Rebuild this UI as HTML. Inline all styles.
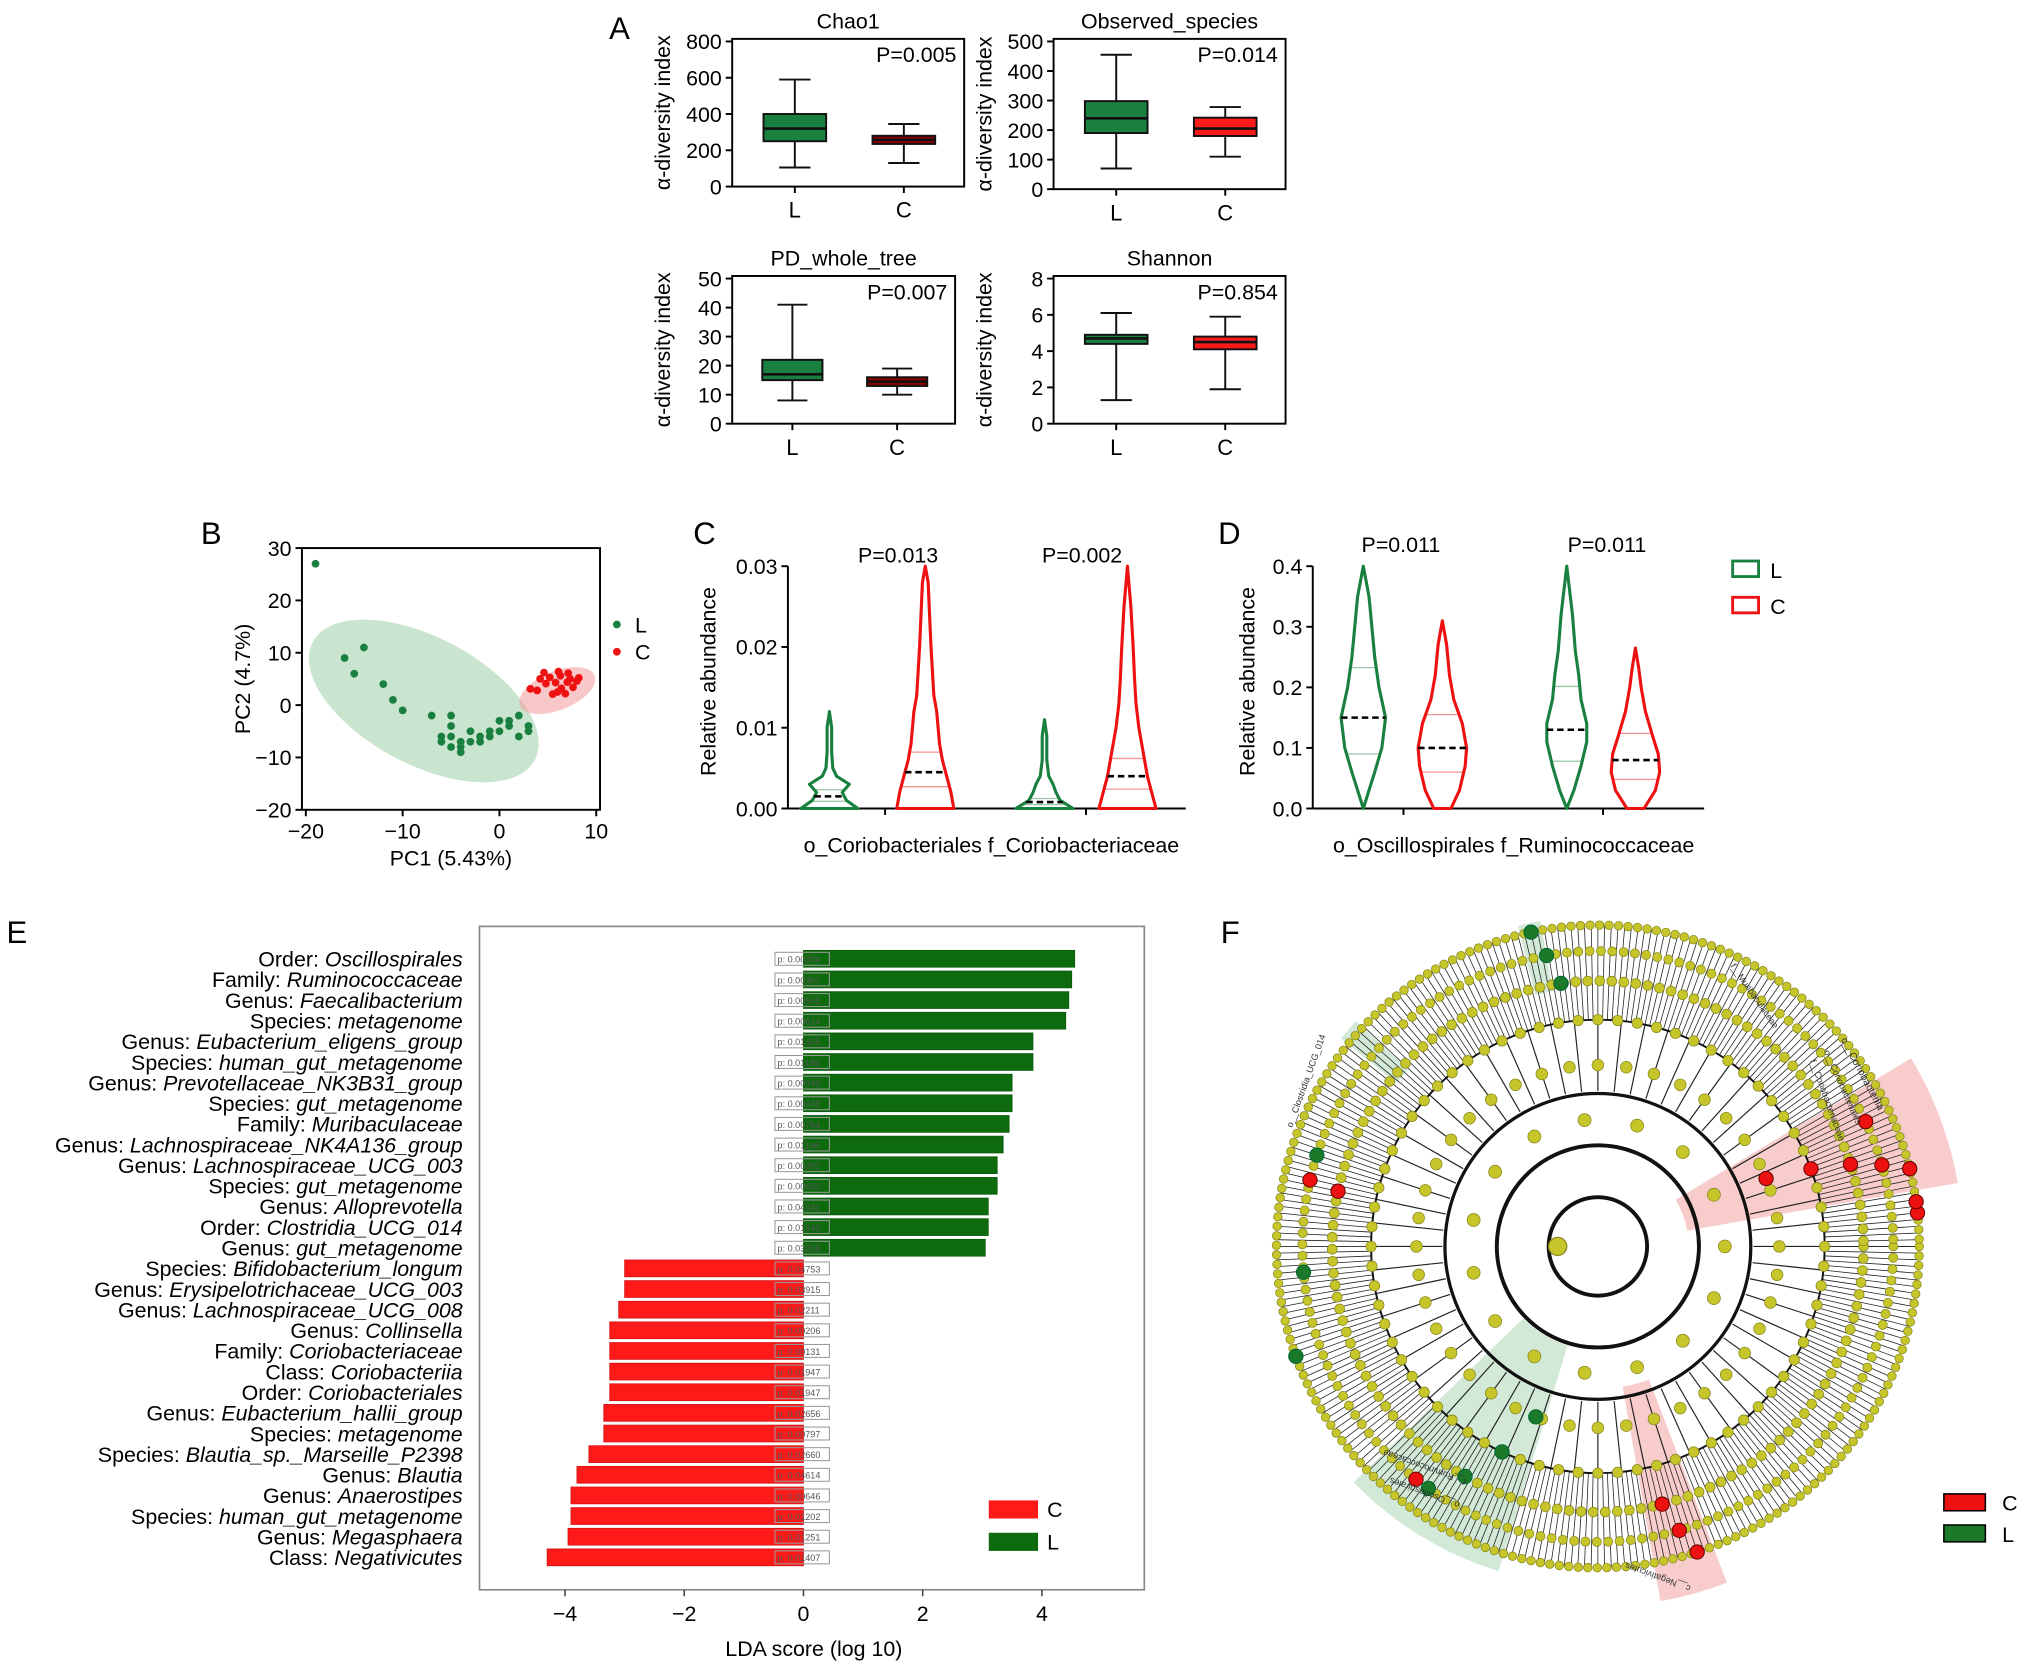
<!DOCTYPE html>
<html><head><meta charset="utf-8"><title>Microbiome figure</title>
<style>
html,body{margin:0;padding:0;background:#fff;}
svg{display:block;font-family:"Liberation Sans",Arial,sans-serif;}
</style></head>
<body>
<svg id="fig" xmlns="http://www.w3.org/2000/svg" width="2032" height="1674" viewBox="0 0 1568 1292" preserveAspectRatio="none">
<text x="470" y="30" font-size="24">A</text>
<text x="155" y="420" font-size="24">B</text>
<text x="535" y="420" font-size="24">C</text>
<text x="940" y="420" font-size="24">D</text>
<text x="5" y="728" font-size="24">E</text>
<text x="942" y="728" font-size="24">F</text>
</svg>
<script>
// ---------- data ----------
const boxTitles = ["Chao1","Observed_species","PD_whole_tree","Shannon"];
const boxPvals = ["P=0.005","P=0.014","P=0.007","P=0.854"];
const boxMax = [800,500,50,8];
const boxTicks = [[0,200,400,600,800],[0,100,200,300,400,500],[0,10,20,30,40,50],[0,2,4,6,8]];
// [whiskerLow, q1, median, q3, whiskerHigh]
const boxL = [[105,250,320,400,590],[70,190,240,298,455],[8,15,17,22,41],[1.3,4.4,4.7,4.9,6.1]];
const boxC = [[130,235,258,280,345],[110,180,205,242,278],[10,13,14.5,16,19],[1.9,4.1,4.5,4.8,5.9]];
const boxCColor = ["#8b0000","#ff1a1a","#8b0000","#ff1a1a"];

const pcaLx = [-19,-16,-14,-15,-12,-11,-10,-7,-5,-5,-6,-5,-4,-3,-2,-1,0,-4,-5,1,1,2,3,3,2,-3,-2,0,-6,-4,-1];
const pcaLy = [27,9,11,6,4,1,-1,-2,-2,-4,-6,-6,-7,-7,-6,-5,-5,-8,-8,-4,-3,-2,-4,-5,-6,-5,-7,-3,-7,-9,-6];
const pcaCx = [5.2,6.1,7.3,8.2,4.8,6.4,7.0,3.9,5.5,6.0,7.6,8.0,6.3,4.6,7.1,3.2,4.2,5.8,6.8];
const pcaCy = [5.3,6.4,5.0,5.2,4.1,3.2,4.4,2.8,2.1,2.5,3.4,4.6,5.6,6.2,6.1,3.1,5.0,4.3,2.2];
const pcaTicksX = [-20,-10,0,10];
const pcaTicksY = [-20,-10,0,10,20,30];

const violinCTicks = [0,0.01,0.02,0.03];
const violinDTicks = [0,0.1,0.2,0.3,0.4];
// density profiles: [value, relative density]
const vC1L = [[0,1],[0.001,0.6],[0.002,0.45],[0.003,0.7],[0.004,0.25],[0.005,0.12],[0.007,0.08],[0.01,0.08],[0.012,0]];
const vC1C = [[0,1],[0.002,0.9],[0.004,0.75],[0.006,0.6],[0.008,0.5],[0.01,0.45],[0.012,0.4],[0.014,0.3],[0.017,0.25],[0.02,0.2],[0.024,0.15],[0.028,0.1],[0.03,0]];
const vC2L = [[0,1],[0.001,0.55],[0.002,0.4],[0.003,0.3],[0.004,0.15],[0.006,0.08],[0.009,0.08],[0.011,0]];
const vC2C = [[0,1],[0.002,0.85],[0.004,0.7],[0.006,0.6],[0.008,0.5],[0.01,0.4],[0.013,0.3],[0.016,0.25],[0.02,0.2],[0.025,0.12],[0.03,0]];
const vCmed = [0.0015,0.0045,0.0008,0.004];
const vD1L = [[0,0],[0.03,0.2],[0.06,0.4],[0.1,0.65],[0.15,0.78],[0.2,0.55],[0.25,0.4],[0.3,0.3],[0.35,0.2],[0.4,0]];
const vD1C = [[0,0.3],[0.03,0.6],[0.07,0.8],[0.1,0.85],[0.14,0.7],[0.18,0.4],[0.22,0.25],[0.27,0.15],[0.31,0]];
const vD2L = [[0,0],[0.03,0.25],[0.07,0.5],[0.11,0.7],[0.14,0.7],[0.18,0.5],[0.22,0.42],[0.26,0.3],[0.32,0.2],[0.4,0]];
const vD2C = [[0,0.3],[0.03,0.7],[0.06,0.85],[0.09,0.8],[0.12,0.6],[0.16,0.35],[0.2,0.2],[0.23,0.12],[0.265,0]];
const vDmed = [0.15,0.1,0.13,0.08];

const ldaLabels = [
 ["Order: ","Oscillospirales"],["Family: ","Ruminococcaceae"],["Genus: ","Faecalibacterium"],["Species: ","metagenome"],
 ["Genus: ","Eubacterium_eligens_group"],["Species: ","human_gut_metagenome"],["Genus: ","Prevotellaceae_NK3B31_group"],
 ["Species: ","gut_metagenome"],["Family: ","Muribaculaceae"],["Genus: ","Lachnospiraceae_NK4A136_group"],
 ["Genus: ","Lachnospiraceae_UCG_003"],["Species: ","gut_metagenome"],["Genus: ","Alloprevotella"],["Order: ","Clostridia_UCG_014"],
 ["Genus: ","gut_metagenome"],["Species: ","Bifidobacterium_longum"],["Genus: ","Erysipelotrichaceae_UCG_003"],
 ["Genus: ","Lachnospiraceae_UCG_008"],["Genus: ","Collinsella"],["Family: ","Coriobacteriaceae"],["Class: ","Coriobacteriia"],
 ["Order: ","Coriobacteriales"],["Genus: ","Eubacterium_hallii_group"],["Species: ","metagenome"],
 ["Species: ","Blautia_sp._Marseille_P2398"],["Genus: ","Blautia"],["Genus: ","Anaerostipes"],["Species: ","human_gut_metagenome"],
 ["Genus: ","Megasphaera"],["Class: ","Negativicutes"]];
const ldaScores = [4.55,4.5,4.45,4.4,3.85,3.85,3.5,3.5,3.45,3.35,3.25,3.25,3.1,3.1,3.05,
 -3.0,-3.0,-3.1,-3.25,-3.25,-3.25,-3.25,-3.35,-3.35,-3.6,-3.8,-3.9,-3.9,-3.95,-4.3];
const ldaP = ["0.00304","0.00367","0.00502","0.00614","0.01405","0.01189","0.00043","0.00043","0.00764","0.01166","0.00382","0.00663","0.04041","0.01642","0.03256",
 "0.04753","0.03915","0.02211","0.00206","0.00131","0.01947","0.01947","0.02656","0.00797","0.02660","0.04614","0.00646","0.01202","0.01251","0.01407"];
const ldaTicks = [-4,-2,0,2,4];

// ---------- helpers ----------
const svg = document.getElementById('fig');
const NS = 'http://www.w3.org/2000/svg';
function mk(tag, attrs, parent){
  const e = document.createElementNS(NS, tag);
  for (const k in attrs) e.setAttribute(k, attrs[k]);
  (parent||svg).appendChild(e);
  return e;
}
function txt(x,y,s,size,anchor,parent,extra){
  const t = mk('text', Object.assign({x:x,y:y,'font-size':size,'text-anchor':anchor||'start'}, extra||{}), parent);
  t.textContent = s;
  return t;
}

// ---------- Panel A ----------
const boxFrames = [[565,30,744,144],[813,30,992,146],[565,213,737,327],[813,213,992,327]];
for (let i=0;i<4;i++){
  const [x0,y0,x1,y1] = boxFrames[i];
  const g = mk('g',{});
  
  
  const ys = v => y1 - v/boxMax[i]*(y1-y0-2);
  const fr = mk('rect',{x:x0,y:y0,width:x1-x0,height:y1-y0,fill:'none',stroke:'#000','stroke-width':1.5},g);
  
  
  const tt = txt((x0+x1)/2,y0-8,boxTitles[i],16.5,'middle',g);
  
  
  const pv = txt(x1-6,y0+18,boxPvals[i],16.5,'end',g);
  
  
  boxTicks[i].forEach(v=>{
    const y = ys(v);
    mk('line',{x1:x0-5,y1:y,x2:x0,y2:y,stroke:'#000','stroke-width':1.5},g);
    const tl = txt(x0-8,y+6,String(v),16.5,'end',g);
    
    
  });
  const yt = txt(0,0,'α-diversity index',16.5,'middle',g,{transform:`translate(${x0-48},${(y0+y1)/2}) rotate(-90)`});
  
  
  const w = x1-x0;
  const cxs = [x0+w*0.27, x0+w*0.74];
  const datas = [boxL[i], boxC[i]];
  const fills = ['#1a8040', boxCColor[i]];
  const names = ['L','C'];
  for (let k=0;k<2;k++){
    const cx = cxs[k], d = datas[k], hw = w*0.135;
    mk('line',{x1:cx,y1:y1,x2:cx,y2:y1+5,stroke:'#000','stroke-width':1.5},g);
    const xl = txt(cx,y1+24,names[k],17,'middle',g);
    
    
    mk('line',{x1:cx,y1:ys(d[0]),x2:cx,y2:ys(d[4]),stroke:'#111','stroke-width':1.5},g);
    mk('line',{x1:cx-hw*0.5,y1:ys(d[0]),x2:cx+hw*0.5,y2:ys(d[0]),stroke:'#111','stroke-width':1.5},g);
    mk('line',{x1:cx-hw*0.5,y1:ys(d[4]),x2:cx+hw*0.5,y2:ys(d[4]),stroke:'#111','stroke-width':1.5},g);
    const b = mk('rect',{x:cx-hw,y:ys(d[3]),width:2*hw,height:ys(d[1])-ys(d[3]),fill:fills[k],stroke:'#111','stroke-width':1.5},g);
    
    
    mk('line',{x1:cx-hw,y1:ys(d[2]),x2:cx+hw,y2:ys(d[2]),stroke:'#111','stroke-width':2},g);
  }
}

// ---------- Panel B ----------
(function(){
  const x0=233,y0=423,x1=463,y1=625;
  const xs = v => 236 + (v+20)*7.47;
  const ys = v => 423 + (30-v)*4.04;
  const g = mk('g',{});
  
  
  const e1 = mk('ellipse',{cx:327,cy:541,rx:97,ry:49,transform:'rotate(28 327 541)',fill:'#9fd0a8','fill-opacity':0.55},g);
  
  
  const e2 = mk('ellipse',{cx:430,cy:533,rx:31,ry:15,transform:'rotate(-22 430 533)',fill:'#f3a3a3','fill-opacity':0.6},g);
  
  
  const fr = mk('rect',{x:x0,y:y0,width:x1-x0,height:y1-y0,fill:'none',stroke:'#000','stroke-width':1.5},g);
  
  
  pcaTicksX.forEach(v=>{
    mk('line',{x1:xs(v),y1:y1,x2:xs(v),y2:y1+5,stroke:'#000','stroke-width':1.5},g);
    const t = txt(xs(v),y1+22,(v<0?'−':'')+Math.abs(v),16.5,'middle',g);
    
    
  });
  pcaTicksY.forEach(v=>{
    mk('line',{x1:x0-5,y1:ys(v),x2:x0,y2:ys(v),stroke:'#000','stroke-width':1.5},g);
    const t = txt(x0-8,ys(v)+6,(v<0?'−':'')+Math.abs(v),16.5,'end',g);
    
    
  });
  for (let i=0;i<pcaLx.length;i++){
    const c = mk('circle',{cx:xs(pcaLx[i]),cy:ys(pcaLy[i]),r:3,fill:'#1a8040'},g);
    
    
  }
  for (let i=0;i<pcaCx.length;i++){
    const c = mk('circle',{cx:xs(pcaCx[i]),cy:ys(pcaCy[i]),r:3,fill:'#ee1111'},g);
    
    
  }
  const xt = txt(348,668,'PC1 (5.43%)',16.5,'middle',g);
  
  
  const yt = txt(0,0,'PC2 (4.7%)',16.5,'middle',g,{transform:'translate(193,524) rotate(-90)'});
  
  
  const l1 = mk('circle',{cx:476,cy:482,r:3,fill:'#1a8040'},g);
  
  
  const lt1 = txt(490,488,'L',16.5,'start',g);
  
  
  const l2 = mk('circle',{cx:476,cy:503,r:3,fill:'#ee1111'},g);
  
  
  const lt2 = txt(490,509,'C',16.5,'start',g);
  
  
})();

// ---------- violins ----------
function violinPanel(cfg){
  const g = mk('g',{});
  
  
  const {x0,x1,y0,y1,max} = cfg;
  const ys = v => y1 - v/max*(y1-y0);
  mk('line',{x1:x0,y1:y0,x2:x0,y2:y1,stroke:'#000','stroke-width':1.5},g);
  mk('line',{x1:x0,y1:y1,x2:x1,y2:y1,stroke:'#000','stroke-width':1.5},g);
  cfg.ticks.forEach(v=>{
    mk('line',{x1:x0-5,y1:ys(v),x2:x0,y2:ys(v),stroke:'#000','stroke-width':1.5},g);
    const t = txt(x0-8,ys(v)+6,v.toFixed(cfg.dec),16.5,'end',g);
    
    
  });
  cfg.xticks.forEach(x=>mk('line',{x1:x,y1:y1,x2:x,y2:y1+5,stroke:'#000','stroke-width':1.5},g));
  cfg.violins.forEach((vv,idx)=>{
    const [cx,prof,col,med] = vv;
    const hw = 22;
    let right = prof.map(p=>`${cx+p[1]*hw},${ys(p[0])}`);
    let left = prof.slice().reverse().map(p=>`${cx-p[1]*hw},${ys(p[0])}`);
    const p = mk('polygon',{points:right.concat(left).join(' '),fill:'none',stroke:col,'stroke-width':2.4,'stroke-linejoin':'round'},g);
    
    
    const widthAt = v=>{ for(let i=1;i<prof.length;i++){ if(v<=prof[i][0]){const a=prof[i-1],b=prof[i];return (a[1]+(b[1]-a[1])*(v-a[0])/(b[0]-a[0]))*hw;} } return 0; };
    const top = prof[prof.length-1][0];
    [med*0.6, med*1.55].forEach(q=>{
      if (q<top){ const w=widthAt(q); mk('line',{x1:cx-w,y1:ys(q),x2:cx+w,y2:ys(q),stroke:col,'stroke-opacity':0.45,'stroke-width':1},g);}
    });
    const w = widthAt(med);
    const m = mk('line',{x1:cx-w,y1:ys(med),x2:cx+w,y2:ys(med),stroke:'#000','stroke-width':2,'stroke-dasharray':'5,3'},g);
    
    
  });
  cfg.pvals.forEach(pp=>{
    const t = txt(pp[0],pp[1],pp[2],16.5,'middle',g);
    
    
  });
  const xt = txt(cfg.xlab[0],cfg.xlab[1],cfg.xlab[2],16.5,'middle',g);
  
  
  const yt = txt(0,0,'Relative abundance',16.5,'middle',g,{transform:`translate(${cfg.ytx},526) rotate(-90)`});
  
  
  return g;
}
violinPanel({name:'violin-panel-c',x0:608,x1:915,y0:437,y1:624,max:0.03,dec:2,ticks:violinCTicks,xticks:[683,838],
  violins:[[640,vC1L,'#1a8040',vCmed[0]],[714,vC1C,'#ee1111',vCmed[1]],[806,vC2L,'#1a8040',vCmed[2]],[870,vC2C,'#ee1111',vCmed[3]]],
  pvals:[[693,434,'P=0.013'],[835,434,'P=0.002']],xlab:[765,658,'o_Coriobacteriales f_Coriobacteriaceae'],ytx:552});
const gD = violinPanel({name:'violin-panel-d',x0:1013,x1:1315,y0:437,y1:624,max:0.4,dec:1,ticks:violinDTicks,xticks:[1083,1237],
  violins:[[1052,vD1L,'#1a8040',vDmed[0]],[1113,vD1C,'#ee1111',vDmed[1]],[1209,vD2L,'#1a8040',vDmed[2]],[1262,vD2C,'#ee1111',vDmed[3]]],
  pvals:[[1081,426,'P=0.011'],[1240,426,'P=0.011']],xlab:[1168,658,'o_Oscillospirales f_Ruminococcaceae'],ytx:968});
const dl1 = mk('rect',{x:1337,y:433,width:20,height:12,fill:'none',stroke:'#1a8040','stroke-width':2.2},gD);


const dlt1 = txt(1366,446,'L',16.5,'start',gD);


const dl2 = mk('rect',{x:1337,y:461,width:20,height:12,fill:'none',stroke:'#ee1111','stroke-width':2.2},gD);


const dlt2 = txt(1366,474,'C',16.5,'start',gD);



// ---------- Panel E ----------
(function(){
  const g = mk('g',{});
  
  
  const x0=370,x1=883,y0=715,y1=1227;
  const xs = v => 620 + v*46;
  const fr = mk('rect',{x:x0,y:y0,width:x1-x0,height:y1-y0,fill:'none',stroke:'#888','stroke-width':1.3},g);
  
  
  const rowY = i => 740 + i*15.93;
  ldaScores.forEach((v,i)=>{
    const y = rowY(i);
    const pos = v>0;
    const b = mk('rect',{x:Math.min(xs(0),xs(v)),y:y-6.5,width:Math.abs(xs(v)-xs(0)),height:13,fill:pos?'#0d6b0d':'#ff1a1a',stroke:pos?'#0a5a0a':'#d01010','stroke-width':0.6},g);
    
    
    if (ldaLabels[i]){
      const t = txt(357,y+6,'',16.5,'end',g);
      
      
      const a = document.createElementNS(NS,'tspan'); a.textContent = ldaLabels[i][0]; t.appendChild(a);
      const c = document.createElementNS(NS,'tspan'); c.setAttribute('font-style','italic'); c.textContent = ldaLabels[i][1]; t.appendChild(c);
    }
    if (ldaP[i]){
      const pb = mk('rect',{x:598,y:y-5,width:42,height:10,fill:'none',stroke:'#999','stroke-width':0.8},g);
      
      
      const pt = txt(600,y+3,'p: '+ldaP[i],7,'start',g,{fill:'#555'});
      
      
    }
  });
  ldaTicks.forEach(v=>{
    mk('line',{x1:xs(v),y1:y1,x2:xs(v),y2:y1+5,stroke:'#444','stroke-width':1.2},g);
    const t = txt(xs(v),y1+24,(v<0?'−':'')+Math.abs(v),16.5,'middle',g);
    
    
  });
  const xt = txt(628,1278,'LDA score (log 10)',16.5,'middle',g);
  
  
  const l1 = mk('rect',{x:763,y:1158,width:38,height:14,fill:'#ff1a1a'},g);
  
  
  const lt1 = txt(808,1171,'C',16.5,'start',g);
  
  
  const l2 = mk('rect',{x:763,y:1183,width:38,height:14,fill:'#0d6b0d'},g);
  
  
  const lt2 = txt(808,1196,'L',16.5,'start',g);
  
  
})();

// ---------- Panel F (cladogram) ----------
(function(){
  const g = mk('g',{});
  
  
  const cx=1233, cy=962;
  const P = (r,a)=>[cx+r*Math.cos(a*Math.PI/180), cy+r*Math.sin(a*Math.PI/180)];
  function sector(a0,a1,r0,r1,fill,name){
    const [x0,y0]=P(r0,a0),[x1,y1]=P(r1,a0),[x2,y2]=P(r1,a1),[x3,y3]=P(r0,a1);
    const s = mk('path',{d:`M${x0},${y0} L${x1},${y1} A${r1},${r1} 0 0 1 ${x2},${y2} L${x3},${y3} A${r0},${r0} 0 0 0 ${x0},${y0}Z`,fill:fill,'fill-opacity':0.4},g);
    
    
  }
  sector(-31,-10,70,282,'#f08080','clade-highlight-coriobacteriales');
  sector(107,136,80,262,'#8fc79a','clade-highlight-oscillospirales');
  sector(69,80,110,278,'#f08080','clade-highlight-negativicutes');
  sector(-104,-100,200,255,'#8fc79a','clade-highlight-muribaculaceae');
  sector(-141,-137,200,255,'#8fc79a','clade-highlight-clostridia');
  for (let a=0;a<360;a+=1.2){
    const [xa,ya]=P(175,a),[xb,yb]=P(248,a);
    mk('line',{x1:xa,y1:ya,x2:xb,y2:yb,stroke:'#222','stroke-width':0.6},g);
  }
  for (let a=0;a<360;a+=6){
    const [xa,ya]=P(120,a),[xb,yb]=P(175,a);
    mk('line',{x1:xa,y1:ya,x2:xb,y2:yb,stroke:'#222','stroke-width':0.9},g);
  }
  [[38,3],[78,3],[118,2.5],[175,1.5]].forEach(([r,w])=>{
    const c = mk('circle',{cx:cx,cy:cy,r:r,fill:'none',stroke:'#111','stroke-width':w},g);
    
    
  });
  const rings = [[98,24,5],[140,9,4.5],[175,5,4],[205,2.6,3.8],[228,2.2,3.5],[248,1.7,3.3]];
  rings.forEach(([r,step,rad])=>{
    for (let a=0;a<360;a+=step){
      const [x,y]=P(r,a);
      mk('circle',{cx:x,cy:y,r:rad,fill:'#c6c62a',stroke:'#8a8a20','stroke-width':0.6},g);
    }
  });
  const big = mk('circle',{cx:1202,cy:962,r:7,fill:'#c6c62a',stroke:'#8a8a20'},g);
  
  
  const redNodes = [[140,-22],[175,-20],[205,-18],[228,-16],[248,-14],[228,-25],[248,-6],[205,76],[228,74],[248,72],[228,-167],[205,-168],[248,-8],[228,128]];
  const greenNodes = [[175,115],[205,120],[228,125],[140,110],[228,-162],[228,-100],[248,-102],[205,-98],[228,175],[248,160]];
  redNodes.forEach(([r,a])=>{
    const [x,y]=P(r,a);
    const c = mk('circle',{cx:x,cy:y,r:5.5,fill:'#ee1111',stroke:'#600','stroke-width':0.8},g);
    
    
  });
  greenNodes.forEach(([r,a])=>{
    const [x,y]=P(r,a);
    const c = mk('circle',{cx:x,cy:y,r:5.5,fill:'#1a7a2a',stroke:'#063','stroke-width':0.8},g);
    
    
  });
  const labs = [[1435,830,'c__Coriobacteriia',62,8],[1420,840,'o__Coriobacteriales',66,7],[1408,850,'f__Coriobacteriaceae',70,7],
    [1100,1150,'o__Oscillospirales',-160,7],[1100,1130,'f__Ruminococcaceae',-160,7],[1280,1215,'c__Negativicutes',-160,7],
    [1352,770,'f__Muribaculaceae',55,7],[1010,835,'o__Clostridia_UCG_014',-70,7]];
  labs.forEach(([x,y,s,rot,sz])=>{
    const t = txt(x,y,s,sz,'middle',g,{transform:`rotate(${rot} ${x} ${y})`,fill:'#333'});
    
    
  });
  const l1 = mk('rect',{x:1500,y:1153,width:32,height:13,fill:'#ee1111',stroke:'#000','stroke-width':1.2},g);
  
  
  const lt1 = txt(1545,1166,'C',16.5,'start',g);
  
  
  const l2 = mk('rect',{x:1500,y:1177,width:32,height:13,fill:'#1a7a2a',stroke:'#000','stroke-width':1.2},g);
  
  
  const lt2 = txt(1545,1190,'L',16.5,'start',g);
  
  
})();
</script>
</body></html>
